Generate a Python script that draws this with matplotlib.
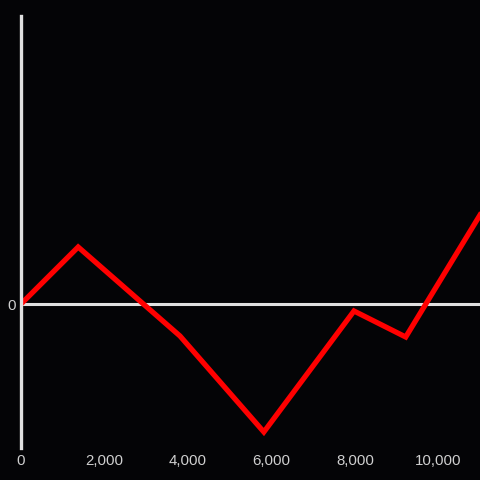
import matplotlib
matplotlib.use("Agg")
import matplotlib.pyplot as plt
from matplotlib.ticker import FuncFormatter

# values
x_vals = [0, 1370, 3810, 5820, 7980, 9220, 11000]
y_vals = [0, 57, -32, -128, -7, -33, 89]
x_ticks = [0, 2000, 4000, 6000, 8000, 10000]

bg = "#040406"
axis_col = "#e0e0e0"
text_col = "#cfcfcf"

plt.rcParams['font.family'] = ['Liberation Sans', 'DejaVu Sans']

fig = plt.figure(figsize=(4.8, 4.8), dpi=100, facecolor=bg)
ax = fig.add_axes([21 / 480, 32 / 480, 459 / 480, 432 / 480])
ax.set_facecolor(bg)

ax.axhline(0, color=axis_col, lw=2.2, zorder=1)
ax.plot(x_vals, y_vals, color="#ff0000", lw=3.8, solid_joinstyle="miter", zorder=2)

ax.set_xlim(0, 11000)
ax.set_ylim(-144, 288)

for s in ["top", "right", "bottom"]:
    ax.spines[s].set_visible(False)
ax.spines["left"].set_color(axis_col)
ax.spines["left"].set_linewidth(2.4)

ax.set_xticks(x_ticks)
ax.xaxis.set_major_formatter(FuncFormatter(lambda v, p: f"{int(v):,}"))
ax.set_yticks([0])
ax.tick_params(axis="both", length=0, colors=text_col, labelsize=10.8)
ax.tick_params(axis="x", pad=4)
ax.tick_params(axis="y", pad=4)

fig.savefig("out.png", dpi=100, facecolor=bg)
